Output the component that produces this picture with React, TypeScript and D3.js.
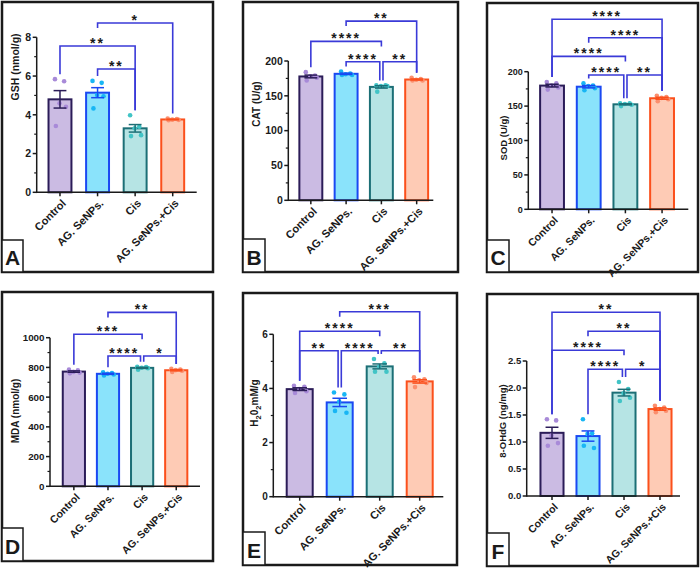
import React from 'react';
import * as d3 from 'd3';

// Treatment groups shown on every panel
const groups = ['Control', 'AG. SeNPs.', 'Cis', 'AG. SeNPs.+Cis'];

// Individual animal measurements per group (n = 5)
const gshPoints = [
  [5.84, 5.73, 4.59, 4.41, 3.42],
  [5.75, 5.65, 5.02, 4.96, 4.33],
  [3.98, 3.38, 3.30, 2.95, 2.90],
  [3.81, 3.78, 3.75, 3.74, 3.72],
];
const catPoints = [
  [184, 179, 178, 176, 172],
  [185, 182, 181, 180, 180],
  [165, 165, 164, 164, 156],
  [176, 174, 173, 172, 172],
];
const sodPoints = [
  [185, 183, 180, 177, 174],
  [183, 180, 179, 176, 173],
  [154, 154, 153, 152, 150],
  [165, 163, 162, 160, 157],
];
const mdaPoints = [
  [785, 780, 770, 765, 760],
  [768, 762, 757, 752, 746],
  [805, 802, 798, 795, 785],
  [790, 786, 782, 778, 769],
];
const h2o2Points = [
  [4.10, 4.06, 3.98, 3.90, 3.83],
  [3.85, 3.78, 3.52, 3.10, 3.17],
  [5.09, 4.93, 4.81, 4.62, 4.62],
  [4.41, 4.34, 4.30, 4.20, 4.05],
];
const ohdgPoints = [
  [1.42, 1.40, 1.12, 0.98, 0.93],
  [1.42, 1.16, 1.15, 0.89, 0.93],
  [2.11, 1.98, 1.90, 1.82, 1.76],
  [1.67, 1.64, 1.61, 1.58, 1.55],
];

// Y-axis tick values
const gshTicks = [0, 2, 4, 6, 8];
const catTicks = [0, 50, 100, 150, 200];
const sodTicks = [0, 50, 100, 150, 200];
const mdaTicks = [0, 200, 400, 600, 800, 1000];
const h2o2Ticks = [0, 2, 4, 6];
const ohdgTicks = [0, 0.5, 1.0, 1.5, 2.0, 2.5];

// Pairwise comparisons: [group a, group b, significance, row, a-leg short, b-leg short]
type Cmp = [number, number, string, number, boolean, boolean];
const gshCmp: Cmp[] = [
  [1, 2, '**', 0, false, false],
  [0, 2, '**', 1, false, false],
  [1, 3, '*', 2, true, false],
];
const catCmp: Cmp[] = [
  [1, 2, '****', 0, false, false],
  [2, 3, '**', 0, false, false],
  [0, 2, '****', 1, false, true],
  [1, 3, '**', 2, true, false],
];
const sodCmp: Cmp[] = [
  [1, 2, '****', 0, false, false],
  [2, 3, '**', 0, false, false],
  [0, 2, '****', 1, false, true],
  [1, 3, '****', 2, true, false],
  [0, 3, '****', 3, false, false],
];
const mdaCmp: Cmp[] = [
  [1, 2, '****', 0, false, false],
  [2, 3, '*', 0, false, false],
  [0, 2, '***', 1, false, true],
  [1, 3, '**', 2, true, false],
];
const h2o2Cmp: Cmp[] = [
  [0, 1, '**', 0, false, false],
  [1, 2, '****', 0, false, false],
  [2, 3, '**', 0, false, false],
  [0, 2, '****', 1, false, true],
  [1, 3, '***', 2, true, false],
];
const ohdgCmp: Cmp[] = [
  [1, 2, '****', 0, false, false],
  [2, 3, '*', 0, false, false],
  [0, 2, '****', 1, false, true],
  [1, 3, '**', 2, true, false],
  [0, 3, '**', 3, false, false],
];

const FILL = ['#cbbbe3', '#8ae3fb', '#b6e4e4', '#fecbb5'];
const STROKE = ['#2b1c58', '#1a49f2', '#1c6f76', '#fb501c'];
const DOT = ['#a88ad8', '#18b6f4', '#41c4c6', '#fb8f6e'];
const BRACKET = '#3a3ad8';
const INK = '#1a1a1a';
const FONT = '"Liberation Sans", Arial, sans-serif';

// horizontal spread of replicate dots, as a fraction of bar width
const JITTER = [-0.22, 0.18, -0.02, 0.26, -0.18];

type Layout = {
  frame: [number, number, number, number];
  tag: [number, number, number, number];
  letter: string;
  axisX: [number, number];
  band: [number, number];
  pad: number;
  y0: number;
  yTop: number;
  max: number;
  minor: number | null;
  rowBase: number;
  rowStep: number;
  titleX: number;
  titleY: number;
  tickFs: number;
  titleFs: number;
  catFs: number;
};

type PanelProps = {
  layout: Layout;
  points: number[][];
  ticks: number[];
  cmps: Cmp[];
  title: React.ReactNode;
  fmt: (v: number) => string;
};

function Panel({ layout, points, ticks, cmps, title, fmt }: PanelProps) {
  const L = layout;
  const x = d3.scaleBand<number>().domain([0, 1, 2, 3]).range(L.band).paddingInner(L.pad).paddingOuter(L.pad / 2);
  const y = d3.scaleLinear().domain([0, L.max]).range([L.y0, L.yTop]);
  const bw = x.bandwidth();
  const cx = (i: number) => (x(i) as number) + bw / 2;

  const stats = points.map((p) => {
    const mean = d3.mean(p) as number;
    const sem = (d3.deviation(p) as number) / Math.sqrt(p.length);
    return { mean, sem, top: Math.max(d3.max(p) as number, mean + sem) };
  });

  const minorTicks: number[] = [];
  if (L.minor) {
    for (let v = L.minor; v < L.max; v += L.minor * 2) minorTicks.push(v);
  }

  const [fx0, fy0, fx1, fy1] = L.frame;
  const [tx0, ty0, tx1, ty1] = L.tag;

  return (
    <g fontFamily={FONT} fontWeight="bold">
      <rect x={fx0} y={fy0} width={fx1 - fx0} height={fy1 - fy0} fill="#fff" stroke={INK} strokeWidth={2.5} />

      {/* y axis */}
      <line x1={L.axisX[0]} x2={L.axisX[0]} y1={y(0) + 0.75} y2={y(L.max)} stroke={INK} strokeWidth={1.5} />
      {ticks.map((t) => (
        <g key={t}>
          <line x1={L.axisX[0] - 4} x2={L.axisX[0]} y1={y(t)} y2={y(t)} stroke={INK} strokeWidth={1.5} />
          <text x={L.axisX[0] - 5.5} y={y(t)} dy="0.36em" textAnchor="end" fontSize={L.tickFs} fill={INK}>
            {fmt(t)}
          </text>
        </g>
      ))}
      {minorTicks.map((t) => (
        <line key={'m' + t} x1={L.axisX[0] - 2.5} x2={L.axisX[0]} y1={y(t)} y2={y(t)} stroke={INK} strokeWidth={1.2} />
      ))}
      <text
        transform={`translate(${L.titleX},${L.titleY}) rotate(-90)`}
        textAnchor="middle"
        fontSize={L.titleFs}
        fill={INK}
      >
        {title}
      </text>

      {/* bars, replicate dots and SEM */}
      {stats.map((s, i) => {
        const c = cx(i);
        return (
          <g key={i}>
            <rect
              x={x(i)}
              y={y(s.mean)}
              width={bw}
              height={y(0) - y(s.mean)}
              fill={FILL[i]}
              stroke={STROKE[i]}
              strokeWidth={2}
            />
            {points[i].map((v, k) => (
              <circle key={k} cx={c + JITTER[k] * bw} cy={y(v)} r={2.3} fill={DOT[i]} />
            ))}
            <line x1={c} x2={c} y1={y(s.mean - s.sem)} y2={y(s.mean + s.sem)} stroke={STROKE[i]} strokeWidth={1.5} />
            <line x1={c - bw * 0.28} x2={c + bw * 0.28} y1={y(s.mean + s.sem)} y2={y(s.mean + s.sem)} stroke={STROKE[i]} strokeWidth={1.5} />
            <line x1={c - bw * 0.28} x2={c + bw * 0.28} y1={y(s.mean - s.sem)} y2={y(s.mean - s.sem)} stroke={STROKE[i]} strokeWidth={1.5} />
          </g>
        );
      })}

      {/* x axis */}
      <line x1={L.axisX[0]} x2={L.axisX[1]} y1={y(0)} y2={y(0)} stroke={INK} strokeWidth={1.5} />
      {groups.map((g, i) => (
        <g key={g}>
          <line x1={cx(i)} x2={cx(i)} y1={y(0)} y2={y(0) + 4} stroke={INK} strokeWidth={1.5} />
          <text
            transform={`translate(${cx(i) + 4},${y(0) + 9}) rotate(-45)`}
            textAnchor="end"
            dy="0.35em"
            fontSize={L.catFs}
            fill={INK}
          >
            {g}
          </text>
        </g>
      ))}

      {/* significance brackets */}
      {cmps.map(([a, b, stars, row, shortA, shortB], k) => {
        const ry = L.rowBase - row * L.rowStep;
        const sharedRight = cmps.some((o) => o !== cmps[k] && o[3] === row && o[0] === b);
        const sharedLeft = cmps.some((o) => o !== cmps[k] && o[3] === row && o[1] === a);
        const xa = cx(a) + (sharedLeft ? 1.6 : 0);
        const xb = cx(b) - (sharedRight ? 1.6 : 0);
        const ya = shortA ? ry + 5 : y(stats[a].top) - 5;
        const yb = shortB ? ry + 5 : y(stats[b].top) - 5;
        const path = d3.path();
        path.moveTo(xa, ya);
        path.lineTo(xa, ry);
        path.lineTo(xb, ry);
        path.lineTo(xb, yb);
        return (
          <g key={'c' + k}>
            <path d={path.toString()} fill="none" stroke={BRACKET} strokeWidth={1.6} />
            <text x={(xa + xb) / 2} y={ry + 2} textAnchor="middle" fontSize={14} letterSpacing={2} fill={INK}>
              {stars}
            </text>
          </g>
        );
      })}

      {/* panel tag */}
      <rect x={tx0} y={ty0} width={tx1 - tx0} height={ty1 - ty0} fill="#fff" stroke={INK} strokeWidth={1.5} />
      <text x={(tx0 + tx1) / 2} y={ty1 - 7} textAnchor="middle" fontSize={21} fill={INK}>
        {L.letter}
      </text>
    </g>
  );
}

const layouts: Record<string, Layout> = {
  A: { frame: [2, 2, 213, 272], tag: [2, 240, 23, 272], letter: 'A', axisX: [36.7, 196.7], band: [41.2, 191.5], pad: 0.39, y0: 192.3, yTop: 37.3, max: 8, minor: 1, rowBase: 69, rowStep: 23, titleX: 19, titleY: 67, tickFs: 10.5, titleFs: 10.5, catFs: 11 },
  B: { frame: [243, 2, 458, 272], tag: [243, 239, 265, 272], letter: 'B', axisX: [288.3, 433.3], band: [293.2, 434.3], pad: 0.35, y0: 200.3, yTop: 61, max: 200, minor: 25, rowBase: 61.7, rowStep: 20.3, titleX: 260, titleY: 104, tickFs: 10.5, titleFs: 10, catFs: 11 },
  C: { frame: [487, 3, 698, 272], tag: [487, 240, 509, 272], letter: 'C', axisX: [528.3, 688.3], band: [533.7, 680.4], pad: 0.35, y0: 209.3, yTop: 71.7, max: 200, minor: 25, rowBase: 75, rowStep: 18.6, titleX: 507, titleY: 138, tickFs: 9, titleFs: 9.5, catFs: 10.5 },
  D: { frame: [2, 292, 213, 561], tag: [2, 528, 23, 561], letter: 'D', axisX: [50, 200], band: [56.8, 193.3], pad: 0.35, y0: 486.3, yTop: 337.7, max: 1000, minor: 100, rowBase: 356, rowStep: 21.8, titleX: 19, titleY: 411, tickFs: 9.8, titleFs: 10, catFs: 10.5 },
  E: { frame: [243, 293, 457, 565], tag: [243, 532, 265, 565], letter: 'E', axisX: [273.3, 443.3], band: [279.7, 439.7], pad: 0.35, y0: 496.7, yTop: 334.3, max: 6, minor: 1, rowBase: 350.7, rowStep: 19.5, titleX: 258, titleY: 403, tickFs: 10, titleFs: 10, catFs: 11 },
  F: { frame: [487, 294, 698, 566], tag: [487, 533, 509, 566], letter: 'F', axisX: [526.7, 680], band: [534, 678], pad: 0.36, y0: 496, yTop: 361, max: 2.5, minor: null, rowBase: 369.3, rowStep: 19, titleX: 506, titleY: 421, tickFs: 9.5, titleFs: 9.5, catFs: 10.5 },
};

const intFmt = (v: number) => d3.format('d')(v);
const decFmt = (v: number) => d3.format('.1f')(v);

export default function App() {
  return (
    <svg
      width={700}
      height={568}
      viewBox="0 0 700 568"
      style={{ position: 'absolute', left: 0, top: 0, background: '#fff' }}
    >
      <rect width={700} height={568} fill="#fff" />
      <Panel layout={layouts.A} points={gshPoints} ticks={gshTicks} cmps={gshCmp} title="GSH (nmol/g)" fmt={intFmt} />
      <Panel layout={layouts.B} points={catPoints} ticks={catTicks} cmps={catCmp} title="CAT (U/g)" fmt={intFmt} />
      <Panel layout={layouts.C} points={sodPoints} ticks={sodTicks} cmps={sodCmp} title="SOD (U/g)" fmt={intFmt} />
      <Panel layout={layouts.D} points={mdaPoints} ticks={mdaTicks} cmps={mdaCmp} title="MDA (nmol/g)" fmt={intFmt} />
      <Panel
        layout={layouts.E}
        points={h2o2Points}
        ticks={h2o2Ticks}
        cmps={h2o2Cmp}
        title={
          <>
            H<tspan dy={3} fontSize={7.5}>2</tspan>
            <tspan dy={-3}>0</tspan>
            <tspan dy={3} fontSize={7.5}>2</tspan>
            <tspan dy={-3}>mM/g</tspan>
          </>
        }
        fmt={intFmt}
      />
      <Panel layout={layouts.F} points={ohdgPoints} ticks={ohdgTicks} cmps={ohdgCmp} title="8-OHdG (ng/mg)" fmt={decFmt} />
    </svg>
  );
}
